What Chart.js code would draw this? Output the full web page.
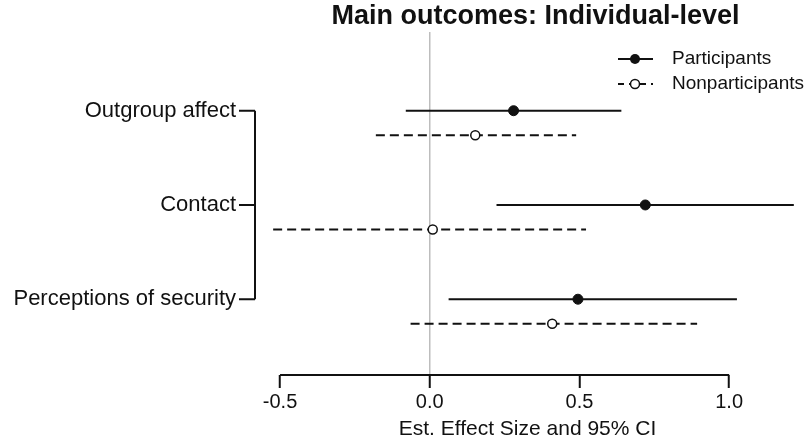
<!DOCTYPE html>
<html>
<head>
<meta charset="utf-8">
<script src="https://cdn.jsdelivr.net/npm/chart.js@4"></script>
<style>
  html, body { margin: 0; padding: 0; background: #fff; }
  #wrap { width: 810px; height: 442px; }
</style>
</head>
<body>
<div id="wrap"><canvas id="coefChart" width="810" height="442"></canvas></div>
<script>
// Datos
const outcomes = ['Outgroup affect', 'Contact', 'Perceptions of security'];
const partEst = [0.28, 0.72, 0.495];
const partLo = [-0.08, 0.223, 0.063];
const partHi = [0.64, 1.216, 1.026];
const nonEst = [0.152, 0.01, 0.409];
const nonLo = [-0.18, -0.523, -0.064];
const nonHi = [0.489, 0.522, 0.893];
const xTicks = [-0.5, 0, 0.5, 1];

const FONT = "'Liberation Sans', Arial, sans-serif";
const TITLE = 'Main outcomes: Individual-level';
const NON_OFFSET = 0.26; // separación vertical entre grupos

// Intervalos como datasets de línea
const ciSets = [];
outcomes.forEach((o, i) => {
  ciSets.push({
    type: 'scatter', showLine: true, order: 1,
    data: [{x: partLo[i], y: i}, {x: partHi[i], y: i}],
    borderColor: '#111', borderWidth: 2, pointRadius: 0
  });
  ciSets.push({
    type: 'scatter', showLine: true, order: 1,
    data: [{x: nonLo[i], y: i + NON_OFFSET}, {x: nonHi[i], y: i + NON_OFFSET}],
    borderColor: '#111', borderWidth: 2, borderDash: [9, 5], pointRadius: 0
  });
});

// Título sobre el área del gráfico, soporte lateral, eje x recortado y leyenda
const extras = {
  id: 'extras',
  afterDraw(chart) {
    const c = chart.ctx, xs = chart.scales.x, ys = chart.scales.y;
    const area = chart.chartArea;
    c.save();
    // título
    c.fillStyle = '#111';
    c.font = 'bold 27px ' + FONT;
    c.textAlign = 'center';
    c.textBaseline = 'middle';
    c.fillText(TITLE, (area.left + area.right) / 2 + 8, 17);

    c.strokeStyle = '#111';
    c.lineWidth = 2;
    // eje x de -0.5 a 1.0
    const yb = area.bottom;
    c.beginPath();
    c.moveTo(xs.getPixelForValue(xTicks[0]), yb);
    c.lineTo(xs.getPixelForValue(xTicks[xTicks.length - 1]), yb);
    c.stroke();
    // corchete de categorías
    const bx = 255, sx = 239;
    const y0 = ys.getPixelForValue(0), y2 = ys.getPixelForValue(outcomes.length - 1);
    c.beginPath();
    c.moveTo(bx, y0); c.lineTo(bx, y2);
    outcomes.forEach((o, i) => {
      const y = ys.getPixelForValue(i);
      c.moveTo(sx, y); c.lineTo(bx, y);
    });
    c.stroke();
    // leyenda
    const lx0 = 618, lx1 = 653, lxm = 635, tx = 672;
    const ly = [59, 84];
    c.beginPath();
    c.moveTo(lx0, ly[0]); c.lineTo(lx1, ly[0]); c.stroke();
    c.beginPath(); c.arc(lxm, ly[0], 5, 0, Math.PI * 2); c.fill();
    c.setLineDash([6, 5]);
    c.beginPath();
    c.moveTo(lx0, ly[1]); c.lineTo(lx1, ly[1]); c.stroke();
    c.setLineDash([]);
    c.lineWidth = 1.5;
    c.fillStyle = '#fff';
    c.beginPath(); c.arc(lxm, ly[1], 4.5, 0, Math.PI * 2); c.fill(); c.stroke();
    c.fillStyle = '#111';
    c.font = '19px ' + FONT;
    c.textAlign = 'left';
    c.fillText('Participants', tx, ly[0]);
    c.fillText('Nonparticipants', tx, ly[1]);
    c.restore();
  }
};

new Chart(document.getElementById('coefChart'), {
  type: 'scatter',
  data: {
    datasets: [
      {
        label: 'Participants', order: 0,
        data: outcomes.map((o, i) => ({x: partEst[i], y: i})),
        pointRadius: 5, pointBackgroundColor: '#111', pointBorderColor: '#111', pointBorderWidth: 1
      },
      {
        label: 'Nonparticipants', order: 0,
        data: outcomes.map((o, i) => ({x: nonEst[i], y: i + NON_OFFSET})),
        pointRadius: 4.5, pointBackgroundColor: '#fff', pointBorderColor: '#111', pointBorderWidth: 1.5
      },
      ...ciSets
    ]
  },
  options: {
    responsive: false,
    animation: false,
    layout: { padding: { left: 0, right: 2.4, top: 32, bottom: 0 } },
    plugins: {
      legend: { display: false },
      tooltip: { enabled: false },
      title: { display: false }
    },
    scales: {
      x: {
        type: 'linear',
        min: -0.597, max: 1.25,
        afterBuildTicks: s => { s.ticks = xTicks.map(v => ({value: v})); },
        afterFit: s => { s.height = 67; },
        border: { display: false },
        grid: {
          drawOnChartArea: true,
          color: ctx => (ctx.tick && ctx.tick.value === 0) ? '#bdbdbd' : 'rgba(0,0,0,0)',
          lineWidth: 1.5,
          tickColor: '#111',
          tickWidth: 2,
          tickLength: 13
        },
        ticks: {
          color: '#111',
          padding: 2,
          font: { family: FONT, size: 20 },
          callback: v => v.toFixed(1)
        },
        title: {
          display: true,
          text: 'Est. Effect Size and 95% CI',
          color: '#111',
          font: { family: FONT, size: 21 },
          padding: { top: 0, bottom: 0 }
        }
      },
      y: {
        type: 'linear',
        reverse: true,
        min: -0.835, max: 2.804,
        afterBuildTicks: s => { s.ticks = outcomes.map((o, i) => ({value: i})); },
        afterFit: s => { s.width = 251; },
        border: { display: false },
        grid: { display: false },
        ticks: {
          color: '#111',
          padding: 7,
          font: { family: FONT, size: 22 },
          callback: v => outcomes[v]
        }
      }
    }
  },
  plugins: [extras]
});
</script>
</body>
</html>
